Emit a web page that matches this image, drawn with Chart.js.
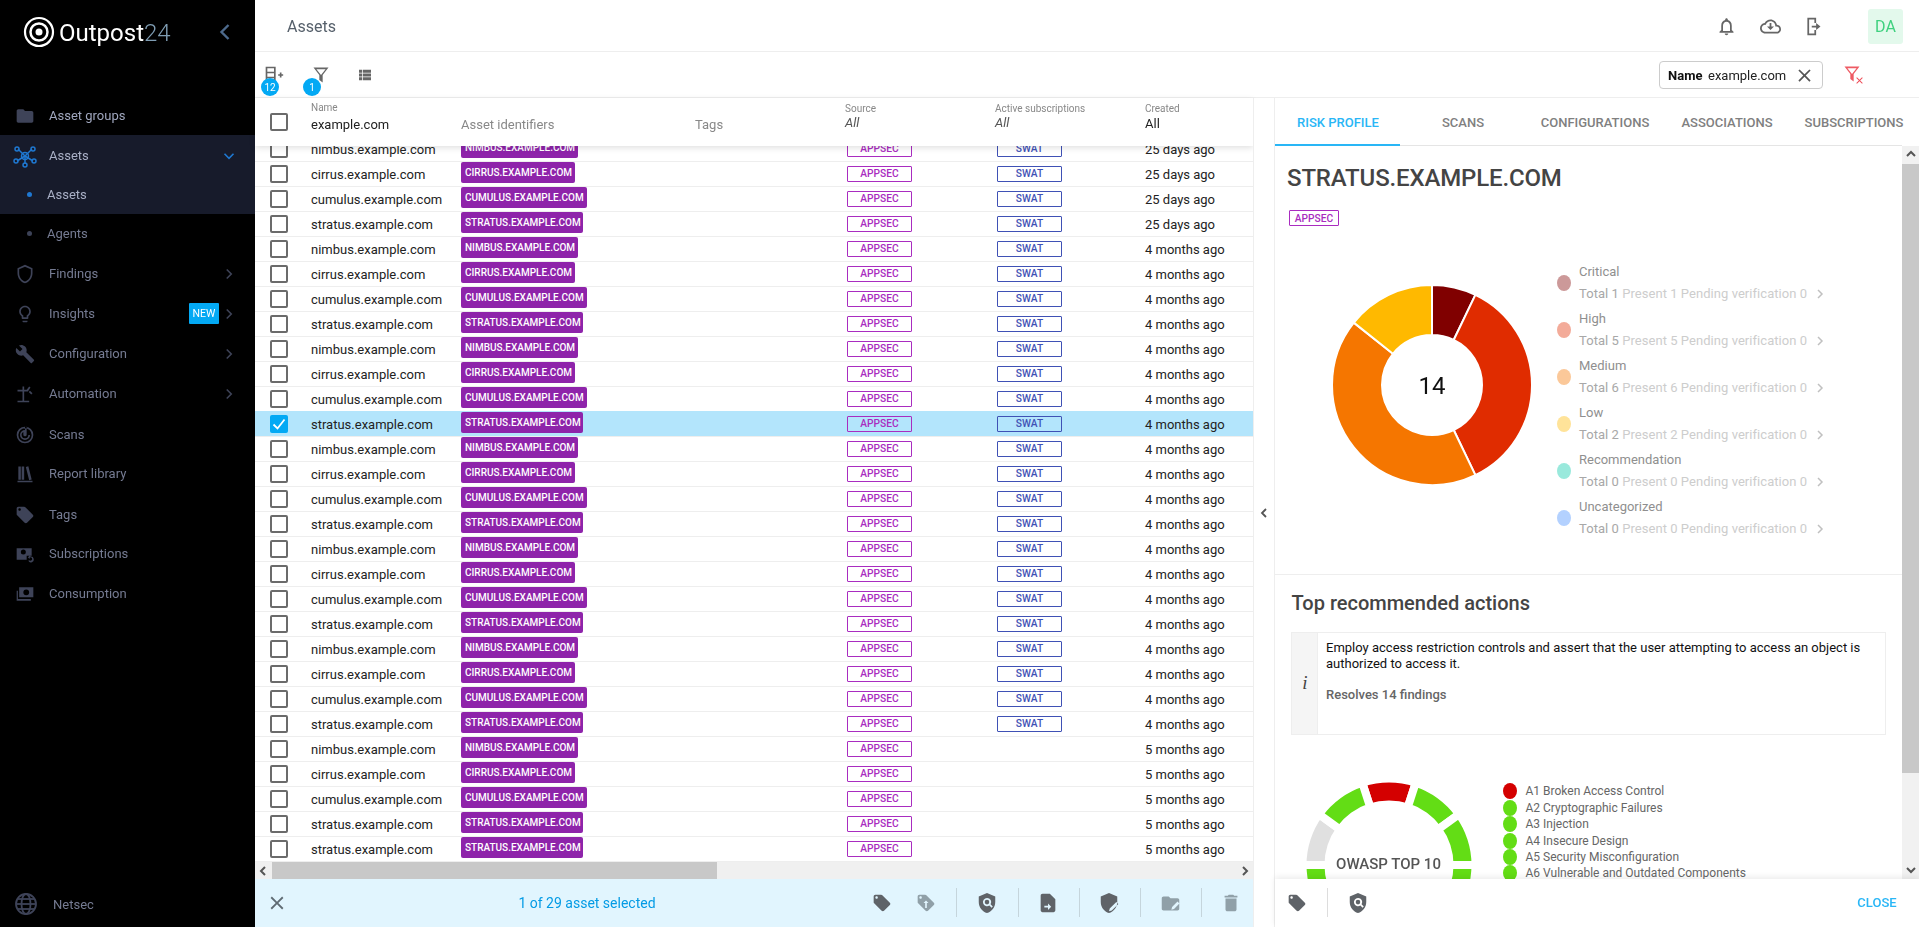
<!DOCTYPE html>
<html>
<head>
<meta charset="utf-8">
<title>Assets</title>
<script src="https://cdn.jsdelivr.net/npm/chart.js@4/dist/chart.umd.min.js"></script>
<style>
  html, body { margin: 0; padding: 0; background: #fff; overflow: hidden; }
  #page { position: relative; width: 1919px; height: 927px; overflow: hidden; font-family: Roboto, sans-serif; font-size: 13px; color: #222; }
  #rows, #panel, #chrome { position: absolute; left: 0; top: 0; right: 0; bottom: 0; }
  .box { position: absolute; box-sizing: border-box; }
  .txt { position: absolute; white-space: nowrap; line-height: 16px; transform: translateY(-50%); }
  svg { position: absolute; overflow: visible; }
  canvas { position: absolute; }
</style>
</head>
<body>
<div id="page">
  <div id="rows"></div>
  <div id="panel"></div>
  <div id="chrome"></div>
</div>
<script>
// sidebar
const navLabels = ["Asset groups", "Assets", "Assets", "Agents", "Findings", "Insights", "Configuration", "Automation", "Scans", "Report library", "Tags", "Subscriptions", "Consumption"];
const navY = [115.5, 155.5, 194.5, 233.5, 273.5, 313.5, 354, 394, 434.5, 474, 514.5, 554, 594];
const navIcons = ["folder", "nodes", null, null, "shield", "bulb", "wrench", "auto", "radar", "books", "tag", "subs", "money"];

// asset table
const hostNames = ["nimbus", "cirrus", "cumulus", "stratus"];
const badgeWidths = [117, 114, 126, 122];
const rowCount = 29;
const selectedRow = 11;
const swatRows = 24;
const ageLabels = ["25 days ago", "4 months ago", "5 months ago"];
const ageRowCounts = [4, 20, 5];

// risk doughnut
const severityLabels = ["Critical", "High", "Medium", "Low", "Recommendation", "Uncategorized"];
const severityTotals = [1, 5, 6, 2, 0, 0];
const severityPresent = [1, 5, 6, 2, 0, 0];
const severityPending = [0, 0, 0, 0, 0, 0];
const severityColors = ["#800000", "#e02c00", "#f57600", "#ffb900", "#00c9a7", "#5c9dff"];
const severityDots = ["#cc9999", "#f3ab99", "#fbc899", "#ffe399", "#99e9dc", "#b3d1ff"];

// owasp ring
const owaspLabels = ["A1 Broken Access Control", "A2 Cryptographic Failures", "A3 Injection", "A4 Insecure Design", "A5 Security Misconfiguration", "A6 Vulnerable and Outdated Components", "A7 Identification and Authentication Failures", "A8 Software and Data Integrity Failures", "A9 Security Logging and Monitoring Failures", "A10 Server-Side Request Forgery"];
const owaspValues = [1, 1, 1, 1, 1, 1, 1, 1, 1, 1];
const owaspColors = ["#d40000", "#63dd15", "#63dd15", "#63dd15", "#63dd15", "#63dd15", "#63dd15", "#63dd15", "#e0e0e0", "#63dd15"];

const tabLabels = ["RISK PROFILE", "SCANS", "CONFIGURATIONS", "ASSOCIATIONS", "SUBSCRIPTIONS"];
const tabCenters = [1338, 1463, 1595, 1727, 1854];

const paths = {
  folder: "M10 4H4c-1.1 0-2 .9-2 2v12c0 1.1.9 2 2 2h16c1.1 0 2-.9 2-2V8c0-1.1-.9-2-2-2h-8l-2-2z",
  folderEdit: "M10 4H4c-1.1 0-2 .9-2 2v12c0 1.1.9 2 2 2h16c1.1 0 2-.9 2-2V8c0-1.1-.9-2-2-2h-8l-2-2zM13 19l.8-3 6.200-6.200 2.200 2.200-6.200 6.200z",
  tag: "M21.41 11.58l-9-9C12.05 2.22 11.55 2 11 2H4c-1.1 0-2 .9-2 2v7c0 .55.22 1.05.59 1.42l9 9c.36.36.86.58 1.41.58s1.05-.22 1.41-.59l7-7c.37-.36.59-.86.59-1.41s-.23-1.06-.59-1.42zM5.5 7C4.67 7 4 6.33 4 5.5S4.67 4 5.5 4 7 4.67 7 5.5 6.33 7 5.5 7z",
  tagLock: "M21.41 11.58l-9-9C12.05 2.22 11.55 2 11 2H4c-1.1 0-2 .9-2 2v7c0 .55.22 1.05.59 1.42l9 9c.36.36.86.58 1.41.58s1.05-.22 1.41-.59l7-7c.37-.36.59-.86.59-1.41s-.23-1.06-.59-1.42zM5.5 7C4.67 7 4 6.33 4 5.5S4.67 4 5.5 4 7 4.67 7 5.5 6.33 7 5.5 7zM9 12l3-3 3 3h-2v6h-2v-6z",
  shield: "M12 1L3 5v6c0 5.55 3.84 10.74 9 12 5.16-1.26 9-6.45 9-12V5l-9-4zm0 2.18l7 3.12v4.7c0 4.52-2.98 8.69-7 9.93-4.02-1.24-7-5.41-7-9.93V6.3l7-3.12z",
  shieldSearch: "M12 1L3 5v6c0 5.55 3.84 10.74 9 12 5.16-1.26 9-6.45 9-12V5l-9-4zM12 6.500a4.500 4.500 0 1 0 2.600 8.200l2.400 2.400 1.300-1.300-2.400-2.400A4.500 4.500 0 0 0 12 6.500zM12 8.500a2.500 2.500 0 1 1 0 5 2.500 2.500 0 0 1 0-5z",
  shieldEdit: "M12 1L3 5v6c0 5.55 3.84 10.74 9 12 5.16-1.26 9-6.45 9-12V5l-9-4zM12 21l.8-3 7.200-7.200 2.200 2.200-7.200 7.200z",
  wrench: "M22.7 19l-9.1-9.1c.9-2.3.4-5-1.5-6.9-2-2-5-2.4-7.4-1.3L9 6 6 9 1.6 4.7C.4 7.1.9 10.1 2.9 12.1c1.9 1.9 4.6 2.4 6.9 1.5l9.1 9.1c.4.4 1 .4 1.4 0l2.3-2.3c.5-.4.5-1.1.1-1.4z",
  bell: "M12 22c1.1 0 2-.9 2-2h-4c0 1.1.9 2 2 2zm6-6v-5c0-3.07-1.63-5.64-4.5-6.32V4c0-.83-.67-1.5-1.5-1.5s-1.5.67-1.5 1.5v.68C7.64 5.36 6 7.92 6 11v5l-2 2v1h16v-1l-2-2zm-2 1H8v-6c0-2.48 1.51-4.5 4-4.5s4 2.02 4 4.5v6z",
  trash: "M6 19c0 1.1.9 2 2 2h8c1.1 0 2-.9 2-2V7H6v12zM19 4h-3.5l-1-1h-5l-1 1H5v2h14V4z",
  fileArrow: "M14 2H6c-1.1 0-2 .9-2 2v16c0 1.1.9 2 2 2h12c1.1 0 2-.9 2-2V8l-6-6zM8 15h4v-2.500l3.500 3.500-3.500 3.500V17H8z",
  cloud: "M19.35 10.04C18.67 6.59 15.64 4 12 4 9.11 4 6.6 5.64 5.35 8.04 2.34 8.36 0 10.91 0 14c0 3.31 2.69 6 6 6h13c2.76 0 5-2.24 5-5 0-2.64-2.05-4.78-4.65-4.96zM19 18H6c-2.21 0-4-1.79-4-4s1.79-4 4-4h.71C7.37 7.69 9.48 6 12 6c3.04 0 5.5 2.46 5.5 5.5v.5H19c1.66 0 3 1.34 3 3s-1.34 3-3 3zM13 8h-2v4H8l4 4 4-4h-3z",
  close: "M19 6.41L17.59 5 12 10.59 6.41 5 5 6.41 10.59 12 5 17.59 6.41 19 12 13.41 17.59 19 19 17.59 13.41 12z",
  exit: "M5 2h10v2H7v16h8v2H5zM15 8v3h-5v2h5v3l5-4z M13 4h2v4h-2z M13 16h2v4h-2z",
  list: "M4 5h4v4H4zM9 5h11v4H9zM4 10h4v4H4zM9 10h11v4H9zM4 15h4v4H4zM9 15h11v4H9z",
  funnel: "M3 3h18l-7 9v9l-4-3v-6zM6.5 5l5.5 7v5.5l0 .5V12l5.5-7z",
  bulb: "M9 21c0 .55.45 1 1 1h4c.55 0 1-.45 1-1v-1H9v1zm3-19C8.14 2 5 5.14 5 9c0 2.38 1.19 4.47 3 5.74V17c0 .55.45 1 1 1h6c.55 0 1-.45 1-1v-2.26c1.81-1.27 3-3.36 3-5.74 0-3.86-3.14-7-7-7zm2 11.7V16h-4v-2.3C8.48 12.63 7 11.53 7 9c0-2.76 2.24-5 5-5s5 2.24 5 5c0 2.49-1.51 3.65-3 4.7z",
  radar: "M12 2a10 10 0 1 0 0 20 10 10 0 0 0 0-20zm0 18a8 8 0 1 1 0-16 8 8 0 0 1 0 16zm0-14a6 6 0 1 0 6 6h-2a4 4 0 1 1-6-3.46V11a2 2 0 1 0 4 1V2h-2z",
  books: "M4 3h3v16H4zM8 3h3v16H8zM13 3.5l3-.8 4 16-3 .8zM3 20h18v2H3z",
  subs: "M2 5h18v9h-6v5H2zM10 6.5a3 3 0 1 0 0 6 3 3 0 0 0 0-6zM19 15a3.5 3.5 0 1 1-3 5.200l1.200-.7A2 2 0 1 0 17.500 16.500V18l-2-2 2-2z",
  money: "M5 4h17v12H5zM13.500 6.500a3.500 3.500 0 1 0 0 7 3.500 3.500 0 0 0 0-7zM2 8h1.500v10H19v2H2z",
  auto: "M3 22v-2h6V9H3V7h6V3h2v4h3l3-4 1.600 1.200L15.500 9H11v11h6v2zM18 8l3 3-1.500 1.500-3-3z",
  columns: "M2 2h12v20H2zM4 4v4h8V4zM4 10v4h8v-4zM4 16v4h8v-4zM19 11h-2v2h2v2h2v-2h2v-2h-2V9h-2z"
};

const chrome = document.getElementById("chrome");
const rowsEl = document.getElementById("rows");
const panelEl = document.getElementById("panel");

function box(parent, x, y, w, h, style) {
  const d = document.createElement("div");
  d.className = "box";
  d.style.cssText = `left:${x}px;top:${y}px;width:${w}px;height:${h}px;` + (style || "");
  parent.appendChild(d);
  return d;
}

function text(parent, str, x, y, style) {
  const d = document.createElement("div");
  d.className = "txt";
  d.textContent = str;
  d.style.cssText = `left:${x}px;top:${y}px;` + (style || "");
  parent.appendChild(d);
  return d;
}

function centerText(parent, str, x, y, style) {
  return text(parent, str, x, y, "transform:translate(-50%,-50%);" + (style || ""));
}

function icon(parent, name, cx, cy, size, color) {
  const s = document.createElementNS("http://www.w3.org/2000/svg", "svg");
  s.setAttribute("viewBox", "0 0 24 24");
  s.setAttribute("width", size);
  s.setAttribute("height", size);
  s.style.left = (cx - size / 2) + "px";
  s.style.top = (cy - size / 2) + "px";
  s.innerHTML = `<path fill="${color}" fill-rule="evenodd" d="${paths[name]}"/>`;
  parent.appendChild(s);
  return s;
}

function chevron(parent, cx, cy, dir, size, color, width) {
  const s = document.createElementNS("http://www.w3.org/2000/svg", "svg");
  s.setAttribute("width", size * 2);
  s.setAttribute("height", size * 2);
  s.style.left = (cx - size) + "px";
  s.style.top = (cy - size) + "px";
  const a = size / 2, c = size;
  const pts = {
    right: [c - a / 2, c - a, c + a / 2, c, c - a / 2, c + a],
    left: [c + a / 2, c - a, c - a / 2, c, c + a / 2, c + a],
    down: [c - a, c - a / 2, c, c + a / 2, c + a, c - a / 2],
    up: [c - a, c + a / 2, c, c - a / 2, c + a, c + a / 2]
  }[dir];
  s.innerHTML = `<polyline points="${pts.join(" ")}" fill="none" stroke="${color}" stroke-width="${width}"/>`;
  parent.appendChild(s);
}

function checkbox(parent, y, checked) {
  const b = box(parent, 270, y - 9, 18, 18, checked
    ? "background:#03a9f4;border-radius:2px;"
    : "border:2px solid #6b6b6b;border-radius:2px;background:#fff;");
  if (checked) {
    const s = document.createElementNS("http://www.w3.org/2000/svg", "svg");
    s.setAttribute("width", 18);
    s.setAttribute("height", 18);
    s.innerHTML = '<polyline points="3.5,9.500 7.500,13.500 14.500,4.500" fill="none" stroke="#fff" stroke-width="1.800"/>';
    b.appendChild(s);
  }
}

// table rows
const ages = [];
ageLabels.forEach((a, i) => { for (let n = 0; n < ageRowCounts[i]; n++) ages.push(a); });

for (let i = 0; i < rowCount; i++) {
  const top = 136.3 + 25 * i;
  const mid = top + 12.5;
  const host = i == rowCount - 1 ? 3 : i % 4;
  if (i == selectedRow) box(rowsEl, 255, top, 998, 25, "background:#b3e5fc;");
  box(rowsEl, 255, top + 24.2, 998, 1, "background:#eeeeee;");
  checkbox(rowsEl, mid, i == selectedRow);
  text(rowsEl, hostNames[host] + ".example.com", 311, mid + 1, "font-size:13px;color:#222;");
  box(rowsEl, 461, top + 1, badgeWidths[host], 21, "background:#8e24aa;border-radius:2px;");
  text(rowsEl, (hostNames[host] + ".example.com").toUpperCase(), 465, mid - 1, "font-size:10px;font-weight:500;color:#fff;");
  box(rowsEl, 847, top + 5, 65, 16, "border:1px solid #a92cc0;border-radius:1px;");
  centerText(rowsEl, "APPSEC", 879.5, mid + 0.5, "font-size:10.200px;font-weight:500;color:#a92cc0;");
  if (i < swatRows) {
    box(rowsEl, 997, top + 5, 65, 16, "border:1px solid #3f51b5;border-radius:1px;");
    centerText(rowsEl, "SWAT", 1029.5, mid + 0.5, "font-size:10.200px;font-weight:500;color:#3f51b5;");
  }
  text(rowsEl, ages[i], 1145, mid + 1, "font-size:13px;color:#222;");
}

// sidebar
box(chrome, 0, 0, 255, 927, "background:#000;");
box(chrome, 0, 135, 255, 79, "background:#171b2b;");
navLabels.forEach((label, i) => {
  const sub = i == 2 || i == 3;
  const active = i == 1 || i == 2;
  text(chrome, label, sub ? 47 : 49, navY[i], `font-size:13px;color:${active ? "#a9b0c6" : i == 0 ? "#a0a7be" : "#757b92"};`);
  if (sub) box(chrome, 27, navY[i] - 2.5, 5, 5, `border-radius:50%;background:${i == 2 ? "#1f78d1" : "#3c4257"};`);
  if (navIcons[i] && navIcons[i] != "nodes") icon(chrome, navIcons[i], 25, navY[i], 20, "#3e4358");
  if (i == 1) {
    const s = document.createElementNS("http://www.w3.org/2000/svg", "svg");
    s.setAttribute("width", 24);
    s.setAttribute("height", 24);
    s.style.left = "13px";
    s.style.top = "144px";
    s.innerHTML = '<g stroke="#1f78d1" stroke-width="1.500" fill="none"><line x1="5" y1="5" x2="12" y2="12"/><line x1="19" y1="5" x2="12" y2="12"/><line x1="4" y1="17" x2="12" y2="12"/><line x1="20" y1="17" x2="12" y2="12"/><line x1="12" y1="20" x2="12" y2="12"/><circle cx="12" cy="12" r="3.500"/><circle cx="4" cy="5" r="2"/><circle cx="20" cy="5" r="2"/><circle cx="3" cy="17" r="2"/><circle cx="21" cy="17" r="2"/><circle cx="12" cy="21" r="2"/></g>';
    chrome.appendChild(s);
  }
});
[273.5, 313.5, 354, 394].forEach(y => chevron(chrome, 229, y, "right", 9, "#3e4358", 1.6));
chevron(chrome, 229, 155.5, "down", 9, "#1f78d1", 1.6);
box(chrome, 189, 303, 30, 21, "background:#03a9f4;border-radius:1px;");
centerText(chrome, "NEW", 204, 314, "font-size:10.500px;color:#fff;");
const globe = document.createElementNS("http://www.w3.org/2000/svg", "svg");
globe.setAttribute("width", 24);
globe.setAttribute("height", 24);
globe.style.left = "14px";
globe.style.top = "892px";
globe.innerHTML = '<g stroke="#3e4358" stroke-width="1.800" fill="none"><circle cx="12" cy="12" r="10"/><ellipse cx="12" cy="12" rx="4.500" ry="10"/><line x1="2" y1="12" x2="22" y2="12"/><line x1="3.500" y1="7" x2="20.500" y2="7"/><line x1="3.500" y1="17" x2="20.500" y2="17"/></g>';
chrome.appendChild(globe);
text(chrome, "Netsec", 53, 904.5, "font-size:13px;color:#757b92;");

// logo
const logo = document.createElementNS("http://www.w3.org/2000/svg", "svg");
logo.setAttribute("width", 34);
logo.setAttribute("height", 34);
logo.style.left = "22px";
logo.style.top = "15px";
logo.innerHTML = '<g fill="none" stroke="#fff"><circle cx="17" cy="17" r="14" stroke-width="2.200"/><circle cx="17" cy="17" r="8.500" stroke-width="2.500"/></g><circle cx="17" cy="17" r="3.500" fill="#fff"/>';
chrome.appendChild(logo);
const brand = text(chrome, "Outpost", 59, 33, "font-size:24px;line-height:28px;color:#fff;");
const brand24 = document.createElement("span");
brand24.textContent = "24";
brand24.style.cssText = "color:#7f9db3;font-weight:300;";
brand.appendChild(brand24);
chevron(chrome, 225, 32, "left", 14, "#4d6a8c", 2.4);

// top bars
box(chrome, 255, 0, 1664, 52, "background:#fff;border-bottom:1px solid #eee;");
text(chrome, "Assets", 287, 26.500, "font-size:16px;color:#56606b;");
icon(chrome, "bell", 1726, 26, 21, "#666");
icon(chrome, "cloud", 1770, 26, 21, "#666");
icon(chrome, "exit", 1813, 26, 21, "#666");
box(chrome, 1868, 9, 35, 35, "background:#e3f9ec;border-radius:3px;");
centerText(chrome, "DA", 1885.5, 26.5, "font-size:16px;color:#3fd17f;");

box(chrome, 255, 52, 1664, 46, "background:#fff;border-bottom:1px solid #eee;");
icon(chrome, "columns", 274, 75, 20, "#666");
icon(chrome, "funnel", 321, 75, 20, "#666");
icon(chrome, "list", 365, 75, 18, "#666");
box(chrome, 261, 78, 18, 18, "background:#03a9f4;border-radius:50%;");
centerText(chrome, "12", 270, 87.5, "font-size:10px;color:#fff;");
box(chrome, 303, 78, 18, 18, "background:#03a9f4;border-radius:50%;");
centerText(chrome, "1", 312, 87.5, "font-size:10px;color:#fff;");
box(chrome, 1659, 61, 164, 28, "border:1px solid #ccc;border-radius:4px;background:#fff;");
text(chrome, "Name", 1668, 75.5, "font-size:13px;font-weight:700;color:#111;");
text(chrome, "example.com", 1708, 75.5, "font-size:13px;color:#222;");
icon(chrome, "close", 1804, 75, 21, "#555");
icon(chrome, "funnel", 1852, 74, 20, "#ee5a63");
icon(chrome, "close", 1859, 80, 11, "#ee4a55");

// table header
box(chrome, 255, 98, 998, 48, "background:#fff;box-shadow:0 2px 6px rgba(0,0,0,.12);");
checkbox(chrome, 122, false);
text(chrome, "Name", 311, 108, "font-size:10px;color:#888;");
text(chrome, "example.com", 311, 125, "font-size:13px;color:#222;");
text(chrome, "Asset identifiers", 461, 125, "font-size:13px;color:#888;");
text(chrome, "Tags", 695, 125, "font-size:13px;color:#888;");
text(chrome, "Source", 845, 109, "font-size:10px;color:#888;");
text(chrome, "All", 845, 123, "font-size:13px;font-style:italic;color:#555;");
text(chrome, "Active subscriptions", 995, 109, "font-size:10px;color:#888;");
text(chrome, "All", 995, 123, "font-size:13px;font-style:italic;color:#555;");
text(chrome, "Created", 1145, 109, "font-size:10px;color:#888;");
text(chrome, "All", 1145, 124, "font-size:13px;color:#222;");

// table scrollbar and action bar
box(chrome, 255, 862, 998, 17, "background:#f0f0f0;");
box(chrome, 272, 862, 445, 17, "background:#c8c8c8;");
chevron(chrome, 263, 870.5, "left", 8, "#555", 2);
chevron(chrome, 1245, 870.5, "right", 8, "#555", 2);
box(chrome, 255, 879, 998, 48, "background:#e1f5fe;");
icon(chrome, "close", 277, 903, 22, "#5f6b73");
centerText(chrome, "1 of 29 asset selected", 587, 902.500, "font-size:14px;color:#039be5;");
icon(chrome, "tag", 882, 903, 20, "#5f6368");
icon(chrome, "tagLock", 926, 903, 20, "#90a0a8");
icon(chrome, "shieldSearch", 987, 903, 22, "#5f6368");
icon(chrome, "fileArrow", 1048, 903, 22, "#5f6368");
icon(chrome, "shieldEdit", 1109, 903, 22, "#5f6368");
icon(chrome, "folderEdit", 1170, 903, 21, "#90a0a8");
icon(chrome, "trash", 1231, 903, 22, "#90a0a8");
[956, 1017.5, 1079, 1140, 1200.5].forEach(x => box(chrome, x, 888, 1, 29, "background:#c5d5dc;"));

// divider between table and panel
box(chrome, 1253, 98, 22, 829, "background:#fff;border-left:1px solid #eee;border-right:1px solid #eee;");
chevron(chrome, 1264, 513, "left", 8, "#555", 1.8);

// right panel tabs
box(panelEl, 1275, 145, 627, 1, "background:#e5e5e5;");
tabLabels.forEach((t, i) => centerText(panelEl, t, tabCenters[i], 122.5, `font-size:13px;font-weight:500;color:${i == 0 ? "#29b6f6" : "#808080"};`));
box(panelEl, 1275, 144, 125, 2, "background:#29b6f6;");

// right panel body
text(panelEl, "STRATUS.EXAMPLE.COM", 1287, 178, "font-size:24px;line-height:28px;font-weight:500;letter-spacing:-.15px;color:#444;");
box(panelEl, 1289, 210, 50, 16, "border:1px solid #a92cc0;border-radius:1px;");
centerText(panelEl, "APPSEC", 1314, 218.5, "font-size:10.200px;font-weight:500;color:#a92cc0;");

// risk legend
severityLabels.forEach((label, i) => {
  const y = 283 + 47 * i;
  box(panelEl, 1557, y - 8, 14, 16, `background:${severityDots[i]};border-radius:50%;`);
  text(panelEl, label, 1579, y - 11, "font-size:13px;color:#8f8f8f;");
  const sub = text(panelEl, "", 1579, y + 11, "font-size:13px;letter-spacing:.05px;color:#cdcdcd;");
  sub.innerHTML = `<span style="color:#a8a8a8">Total ${severityTotals[i]}</span> Present ${severityPresent[i]} Pending verification ${severityPending[i]}`;
  chevron(panelEl, 1820, y + 10.5, "right", 8, "#c0c0c0", 1.5);
});

box(panelEl, 1275, 574, 627, 1, "background:#eee;");
text(panelEl, "Top recommended actions", 1291.5, 603, "font-size:20px;line-height:24px;font-weight:500;color:#444;");
box(panelEl, 1291, 632, 595, 103, "border:1px solid #eee;background:#fff;");
box(panelEl, 1292, 633, 26, 101, "background:#f5f5f5;border-right:1px solid #eee;");
centerText(panelEl, "i", 1305, 683, "font-family:'Liberation Serif',serif;font-style:italic;font-size:19px;color:#444;");
text(panelEl, "Employ access restriction controls and assert that the user attempting to access an object is", 1326, 647.500, "font-size:13px;color:#111;");
text(panelEl, "authorized to access it.", 1326, 663.500, "font-size:13px;color:#111;");
text(panelEl, "Resolves 14 findings", 1326, 694.500, "font-size:13px;font-weight:500;color:#666;");

// owasp legend
const owaspRowY = [791, 808, 824, 841, 857, 873];
owaspRowY.forEach((y, i) => {
  box(panelEl, 1503, y - 8, 14, 16, `background:${owaspColors[i]};border-radius:50%;`);
  text(panelEl, owaspLabels[i], 1525.5, y - 0.5, "font-size:12px;color:#666;");
});

// scrollbar of the panel
box(panelEl, 1902, 146, 17, 733, "background:#f1f1f1;");
box(panelEl, 1902, 164, 17, 609, "background:#c8c8c8;");
chevron(panelEl, 1910.5, 154, "up", 8, "#555", 2);
chevron(panelEl, 1910.5, 870, "down", 8, "#555", 2);

// doughnuts
const riskCanvas = document.createElement("canvas");
riskCanvas.id = "riskChart";
riskCanvas.width = 220;
riskCanvas.height = 220;
riskCanvas.style.cssText = "left:1322px;top:275px;width:220px;height:220px;";
panelEl.appendChild(riskCanvas);
new Chart(riskCanvas.getContext("2d"), {
  type: "doughnut",
  data: {
    labels: severityLabels,
    datasets: [{ data: severityTotals, backgroundColor: severityColors, borderColor: "#fff", borderWidth: 2, radius: 100, cutout: "50%" }]
  },
  options: {
    responsive: false,
    animation: false,
    events: [],
    layout: { padding: 0 },
    plugins: { legend: { display: false }, tooltip: { enabled: false } }
  }
});
centerText(panelEl, "14", 1432, 385.5, "font-size:24px;line-height:28px;color:#111;");

const owaspCanvas = document.createElement("canvas");
owaspCanvas.id = "owaspChart";
owaspCanvas.width = 200;
owaspCanvas.height = 200;
owaspCanvas.style.cssText = "left:1288.500px;top:765px;width:200px;height:200px;";
panelEl.appendChild(owaspCanvas);
new Chart(owaspCanvas.getContext("2d"), {
  type: "doughnut",
  data: {
    labels: owaspLabels,
    datasets: [{ data: owaspValues, backgroundColor: owaspColors, borderColor: "#fff", borderWidth: 8, radius: 86.500, cutout: "70%" }]
  },
  options: {
    responsive: false,
    animation: false,
    events: [],
    rotation: -18,
    layout: { padding: 0 },
    plugins: { legend: { display: false }, tooltip: { enabled: false } }
  }
});
centerText(panelEl, "OWASP TOP 10", 1388.5, 864, "font-size:15px;font-weight:500;color:#555;");

// bottom bar of the panel, over the ring
box(chrome, 1275, 879, 644, 48, "background:#fff;box-shadow:0 -2px 6px rgba(0,0,0,.08);");
icon(chrome, "tag", 1297, 903, 20, "#5f6368");
box(chrome, 1327, 888, 1, 29, "background:#ddd;");
icon(chrome, "shieldSearch", 1358, 903, 22, "#5f6368");
centerText(chrome, "CLOSE", 1877, 903, "font-size:13px;font-weight:500;color:#29b6f6;");
</script>
</body>
</html>
